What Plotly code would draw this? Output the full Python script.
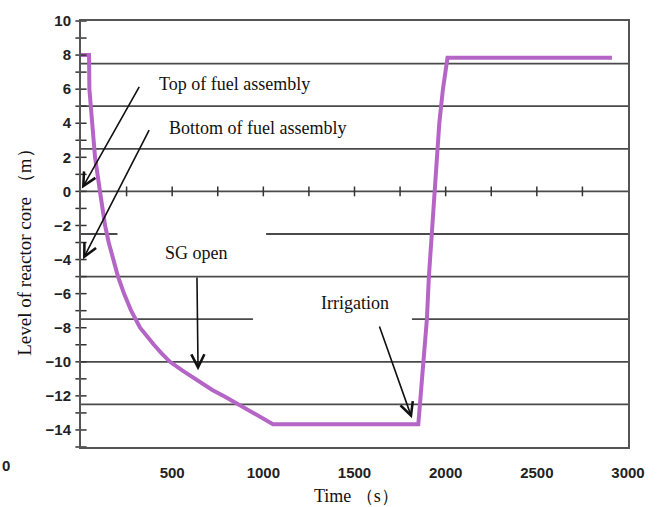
import plotly.graph_objects as go

# ---- data ----
time_s = [0, 44, 46, 60, 77, 104, 132, 152, 175, 203, 236, 275, 324, 360, 400, 442, 488,
          555, 620, 653, 720, 790, 864, 940, 1000, 1053,
          1850, 1859, 1875, 1897, 1908, 1924, 1935, 1950, 1965, 1985, 2010, 2912]
level_m = [8, 8, 6, 4, 2, 0, -2, -3, -4, -5, -6, -7, -8, -8.5, -9, -9.5, -10,
           -10.5, -10.95, -11.2, -11.65, -12.05, -12.5, -12.95, -13.32, -13.66,
           -13.66, -12.5, -10, -7.5, -5, -2.5, 0, 2, 4, 6, 7.85, 7.85]

x_ticks = [500, 1000, 1500, 2000, 2500, 3000]
x_minor_ticks = list(range(250, 3000, 250))
y_ticks = [-14, -12, -10, -8, -6, -4, -2, 0, 2, 4, 6, 8, 10]
y_minor_ticks = list(range(-15, 11))

grid_levels = [7.5, 5, 2.5, -2.5, -5, -7.5, -10, -12.5]
# gaps in gridlines (level: (start, end) in seconds)
grid_gaps = {-2.5: (200, 1015), -7.5: (943, 1815)}

CURVE = "#B565C6"
GRID = "#4a4a4a"
TICK = "#333333"
SERIF = "Liberation Serif, Times New Roman, serif"
SANS = "Liberation Sans, Arial, sans-serif"

fig = go.Figure()

fig.add_trace(go.Scatter(x=time_s, y=level_m, mode="lines",
                         line=dict(color=CURVE, width=4), hoverinfo="skip",
                         showlegend=False))

# x ticks on the zero line
fig.add_trace(go.Scatter(x=x_minor_ticks, y=[0] * len(x_minor_ticks), mode="markers",
                         marker=dict(symbol="line-ns-open", size=7, color=TICK,
                                     line=dict(color=TICK, width=1.5)),
                         hoverinfo="skip", showlegend=False, cliponaxis=False))
# y ticks crossing the left axis
fig.add_trace(go.Scatter(x=[0] * len(y_minor_ticks), y=y_minor_ticks, mode="markers",
                         marker=dict(symbol="line-ew-open", size=8, color=TICK,
                                     line=dict(color=TICK, width=1.5)),
                         hoverinfo="skip", showlegend=False, cliponaxis=False))

shapes = []
for lv in grid_levels:
    if lv in grid_gaps:
        a, b = grid_gaps[lv]
        segs = [(0, a), (b, 3000)]
    else:
        segs = [(0, 3000)]
    for s, e in segs:
        shapes.append(dict(type="line", xref="x", yref="y", x0=s, x1=e, y0=lv, y1=lv,
                           line=dict(color=GRID, width=1.8), layer="below"))
shapes.append(dict(type="line", xref="x", yref="y", x0=0, x1=3000, y0=0, y1=0,
                   line=dict(color=GRID, width=1.6), layer="below"))

annotations = []
labels = [
    ("Top of fuel assembly", 417, 6.28, "left"),
    ("Bottom of fuel assembly", 472, 3.75, "left"),
    ("SG open", 636, -3.63, "center"),
    ("Irrigation", 1503, -6.57, "center"),
]
for txt, x, y, anc in labels:
    annotations.append(dict(text=txt, x=x, y=y, xref="x", yref="y", xanchor=anc,
                            yanchor="middle", showarrow=False,
                            font=dict(family=SERIF, size=18, color="#111")))
arrows = [
    ((324, 6.22), (5, 0.17)),
    ((378, 3.69), (11, -3.98)),
    ((636, -4.96), (642, -10.49)),
    ((1634, -7.84), (1815, -13.31)),
]
for (tx, ty), (hx, hy) in arrows:
    annotations.append(dict(text="", x=hx, y=hy, ax=tx, ay=ty, xref="x", yref="y",
                            axref="x", ayref="y", showarrow=True, arrowhead=5,
                            arrowsize=1.6, arrowwidth=1.6, arrowcolor="#111"))

annotations.append(dict(text="Level of reactor core （m）", textangle=-90,
                        x=25, y=244, xref="paper", yref="paper",
                        showarrow=False, font=dict(family=SERIF, size=19, color="#111")))
annotations.append(dict(text="Time （s）", x=356, y=497, xref="paper", yref="paper",
                        showarrow=False, font=dict(family=SERIF, size=18, color="#111")))
annotations.append(dict(text="0", x=6, y=466, xref="paper", yref="paper",
                        showarrow=False,
                        font=dict(family=SANS, size=15, color="#222", weight="bold")))

# convert pixel-placed paper annotations
L, R, T, B = 81, 35, 13, 60
W, H = 663, 507
pw, ph = W - L - R, H - T - B
for a in annotations:
    if a.get("xref") == "paper":
        a["x"] = (a["x"] - L) / pw
        a["y"] = (H - B - a["y"]) / ph
        a["xanchor"] = "center"
        a["yanchor"] = "middle"

fig.update_layout(
    width=W, height=H,
    margin=dict(l=L, r=R, t=T, b=B),
    paper_bgcolor="white", plot_bgcolor="white",
    shapes=shapes, annotations=annotations,
    xaxis=dict(range=[0, 3000], tickvals=x_ticks, showgrid=False, zeroline=False,
               showline=True, linecolor="#555", linewidth=2, mirror=True, ticks="",
               ticklabelstandoff=11,
               tickfont=dict(family=SANS, size=15, color="#222", weight="bold")),
    yaxis=dict(range=[-15, 10], tickvals=y_ticks, showgrid=False, zeroline=False,
               showline=True, linecolor="#555", linewidth=2, mirror=True, ticks="",
               ticklabelstandoff=5,
               tickfont=dict(family=SANS, size=15, color="#222", weight="bold")),
)

fig.write_html("out.html")
